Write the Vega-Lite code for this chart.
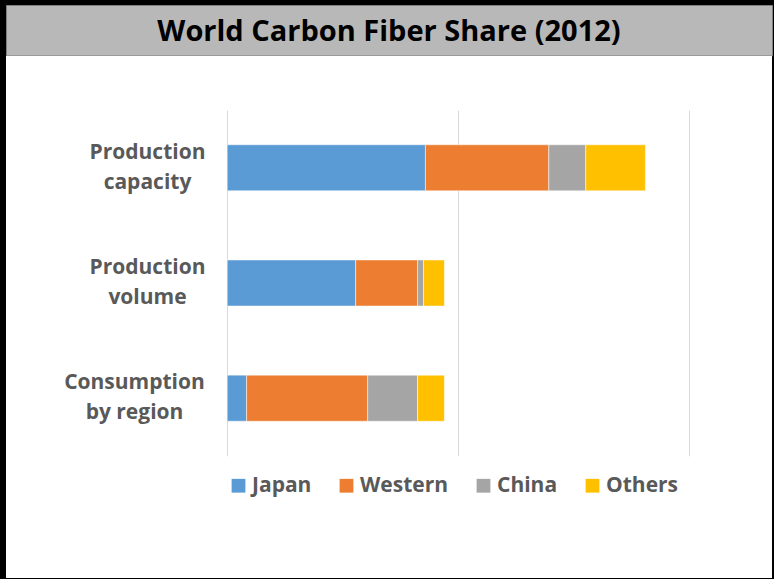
{
  "$schema": "https://vega.github.io/schema/vega-lite/v6.json",
  "background": "black",
  "padding": {"left": 5, "top": 4, "right": 2, "bottom": 1},
  "spacing": 0,
  "config": {"font": "Open Sans"},
  "vconcat": [
    {
      "width": 766,
      "height": 50.5,
      "view": {"fill": "#b8b8b8", "stroke": "#7f7f7f"},
      "data": {"values": [{"heading": "World Carbon Fiber Share (2012)"}]},
      "mark": {"type": "text", "font": "Open Sans", "fontSize": 29, "fontWeight": "bold", "color": "#000000", "baseline": "middle", "align": "center", "dy": 1.5},
      "encoding": {
        "text": {"field": "heading"},
        "x": {"datum": 0.5, "type": "quantitative", "scale": {"domain": [0, 1]}, "axis": null},
        "y": {"datum": 0.5, "type": "quantitative", "scale": {"domain": [0, 1]}, "axis": null}
      }
    },
    {
      "width": 766,
      "height": 522,
      "view": {"fill": "white", "stroke": null},
      "data": {
        "values": [
          {"measure": "Production capacity", "region": "Japan", "rank": 1, "share": 42.9},
          {"measure": "Production capacity", "region": "Western", "rank": 2, "share": 26.7},
          {"measure": "Production capacity", "region": "China", "rank": 3, "share": 8.0},
          {"measure": "Production capacity", "region": "Others", "rank": 4, "share": 12.9},
          {"measure": "Production volume", "region": "Japan", "rank": 1, "share": 27.8},
          {"measure": "Production volume", "region": "Western", "rank": 2, "share": 13.4},
          {"measure": "Production volume", "region": "China", "rank": 3, "share": 1.3},
          {"measure": "Production volume", "region": "Others", "rank": 4, "share": 4.5},
          {"measure": "Consumption by region", "region": "Japan", "rank": 1, "share": 4.2},
          {"measure": "Consumption by region", "region": "Western", "rank": 2, "share": 26.2},
          {"measure": "Consumption by region", "region": "China", "rank": 3, "share": 10.8},
          {"measure": "Consumption by region", "region": "Others", "rank": 4, "share": 5.8}
        ]
      },
      "mark": {"type": "bar", "stroke": "white", "strokeWidth": 0.5},
      "encoding": {
        "y": {
          "field": "measure",
          "type": "nominal",
          "sort": ["Production capacity", "Production volume", "Consumption by region"],
          "scale": {"range": [54.2, 399.8], "paddingInner": 0.6, "paddingOuter": 0.3},
          "axis": {
            "title": null,
            "orient": "left",
            "offset": -141,
            "domain": false,
            "ticks": false,
            "tickSize": 0,
            "grid": false,
            "labelPadding": {"condition": {"test": "datum.value == 'Consumption by region'", "value": 13}, "value": 0},
            "labelOffset": -15,
            "labelAlign": "center",
            "labelBaseline": "middle",
            "labelFont": "Open Sans",
            "labelFontSize": 21,
            "labelFontWeight": "bold",
            "labelColor": "#595959",
            "labelLineHeight": 30,
            "labelBound": false,
            "labelOverlap": false,
            "labelExpr": "datum.value == 'Consumption by region' ? ['Consumption', 'by region'] : split(datum.value, ' ')"
          }
        },
        "x": {
          "field": "share",
          "type": "quantitative",
          "stack": "zero",
          "scale": {"domain": [-47.87, 117.9], "nice": false, "zero": false},
          "axis": {
            "title": null,
            "orient": "top",
            "values": [0, 50, 100],
            "labels": false,
            "ticks": false,
            "domain": false,
            "grid": true,
            "gridColor": "#d9d9d9",
            "gridWidth": 1
          }
        },
        "color": {
          "field": "region",
          "type": "nominal",
          "scale": {
            "domain": ["Japan", "Western", "China", "Others"],
            "range": ["#5b9bd5", "#ed7d31", "#a5a5a5", "#ffc000"]
          },
          "legend": {
            "title": null,
            "orient": "none",
            "legendX": 222,
            "legendY": 470,
            "direction": "horizontal",
            "padding": 0,
            "symbolType": "square",
            "symbolSize": 190,
            "symbolStrokeWidth": 0,
            "symbolOpacity": 1,
            "labelFont": "Open Sans",
            "labelFontSize": 21,
            "labelFontWeight": "bold",
            "labelColor": "#595959",
            "labelOffset": 3,
            "columnPadding": 24
          }
        },
        "order": {"field": "rank", "type": "quantitative"}
      }
    }
  ]
}
